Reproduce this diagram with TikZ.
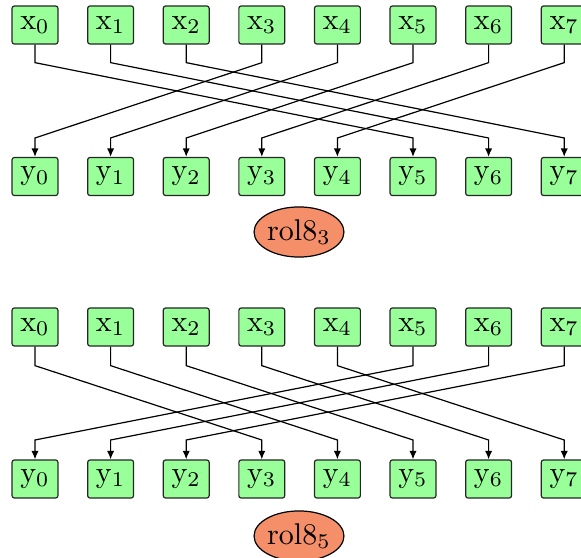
\documentclass[tikz,border=0pt]{standalone}
\usetikzlibrary{arrows.meta,shapes.geometric}
\definecolor{boxgreen}{RGB}{153,255,153}
\definecolor{rolorange}{RGB}{245,143,106}
\begin{document}
\begin{tikzpicture}[x=0.33333pt,y=-0.33333pt,
  cell/.style={draw=black!85,fill=boxgreen,rounded corners=0.8pt,minimum width=15.3pt,minimum height=12.7pt,inner sep=0pt},
  rol/.style={ellipse,draw=black,fill=rolorange,minimum width=28pt,minimum height=16.7pt,inner sep=0pt},
  wire/.style={-{Latex[length=2.8pt,width=2.4pt]}}]
\useasboundingbox (0,0) rectangle (581,558);
\foreach \i in {0,...,7} {
  \node[cell] (a\i) at (35+75.6*\i,25) {x$_\i$};
  \node[cell] (b\i) at (35+75.6*\i,176.5) {y$_\i$};
  \node[cell] (c\i) at (35+75.6*\i,327) {x$_\i$};
  \node[cell] (d\i) at (35+75.6*\i,479) {y$_\i$};
}
\node[rol] (r3) at (299,232) {rol8$_3$};
\node[rol] (r5) at (299,536) {rol8$_5$};
\foreach \i in {0,...,7} {
  \pgfmathtruncatemacro\j{mod(\i+5,8)}
  \pgfmathtruncatemacro\k{mod(\i+3,8)}
  \draw[wire] (a\i.south) -- ++(0,18) -- (b\j.north |- 0,138) -- (b\j.north);
  \draw[wire] (c\i.south) -- ++(0,19) -- (d\k.north |- 0,440) -- (d\k.north);
}
\end{tikzpicture}
\end{document}
